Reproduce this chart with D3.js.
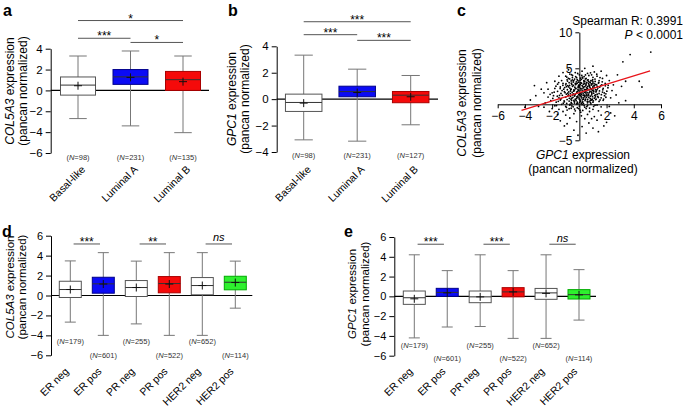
<!DOCTYPE html>
<html>
<head>
<meta charset="utf-8">
<script src="https://cdn.jsdelivr.net/npm/d3@7"></script>
<style>
  body { margin: 0; background: #fff; }
  text { font-family: "Liberation Sans", Arial, sans-serif; }
</style>
</head>
<body>
<script>
// ---- data ----
// box stats per group: [low whisker, q1, median, q3, high whisker, mean]
const catsAB = ["Basal-like", "Luminal A", "Luminal B"];
const statsA = [
  [-2.7, -0.45, 0.51, 1.29, 3.3, 0.45],
  [-3.4, 0.58, 1.3, 2.0, 3.78, 1.25],
  [-4.05, 0.0, 1.03, 1.82, 3.3, 0.84]
];
const nA = [98, 231, 135];
const statsB = [
  [-3.08, -0.93, -0.25, 0.38, 3.33, -0.3],
  [-3.18, 0.18, 0.57, 0.98, 2.27, 0.5],
  [-1.94, -0.27, 0.3, 0.58, 1.79, 0.18]
];
const nB = [98, 231, 127];

const catsDE = ["ER neg", "ER pos", "PR neg", "PR pos", "HER2 neg", "HER2 pos"];
const statsD = [
  [-2.67, -0.2, 0.6, 1.43, 3.47, 0.6],
  [-4.0, 0.23, 1.17, 1.83, 4.3, 1.15],
  [-2.85, -0.1, 0.8, 1.5, 3.45, 0.8],
  [-4.0, 0.27, 1.2, 1.9, 4.3, 1.15],
  [-4.0, 0.07, 1.0, 1.8, 4.3, 1.0],
  [-1.27, 0.57, 1.33, 1.93, 3.45, 1.3]
];
const statsE = [
  [-4.2, -0.81, -0.14, 0.54, 4.2, -0.25],
  [-3.1, 0.0, 0.4, 0.81, 2.6, 0.35],
  [-3.05, -0.64, -0.05, 0.54, 4.2, -0.05],
  [-4.25, -0.05, 0.45, 0.88, 2.6, 0.45],
  [-4.25, -0.3, 0.35, 0.8, 4.2, 0.3],
  [-2.4, -0.27, 0.17, 0.68, 2.7, 0.15]
];
const nDE = [179, 601, 255, 522, 652, 114];

// significance bars: [from, to, y value, label]
const sigA = [["Basal-like", "Luminal B", 6.7, "*"], ["Basal-like", "Luminal A", 5.0, "***"], ["Luminal A", "Luminal B", 4.6, "*"]];
const sigB = [["Basal-like", "Luminal B", 5.86, "***"], ["Basal-like", "Luminal A", 4.88, "***"], ["Luminal A", "Luminal B", 4.45, "***"]];
const sigD = [["ER neg", "ER pos", 5.17, "***"], ["PR neg", "PR pos", 5.17, "**"], ["HER2 neg", "HER2 pos", 5.17, "ns"]];
const sigE = [["ER neg", "ER pos", 5.27, "***"], ["PR neg", "PR pos", 5.27, "***"], ["HER2 neg", "HER2 pos", 5.27, "ns"]];

// panel c: GPC1 (x) vs COL5A3 (y)
const scatterPts = [
  [-0.3,4.4],[0.2,4.6],[0.6,4.3],[1.1,4.5],[-0.7,4.2],[0.9,4.1],
  [-1.0,3.9],[-0.5,4.0],[0.0,4.1],[0.35,3.85],[0.7,4.0],[1.3,3.9],[-0.2,3.7],[0.5,3.6],[1.0,3.75],[-0.8,3.6],
  [-1.3,3.3],[-0.9,3.4],[-0.6,3.25],[-0.35,3.5],[-0.1,3.3],[0.15,3.45],[0.4,3.2],[0.65,3.4],[0.85,3.3],[1.15,3.5],[1.45,3.3],[1.7,3.6],[0.25,3.65],[-0.45,3.1],[0.55,3.05],[1.0,3.1],
  [-1.6,2.8],[-1.2,2.9],[-1.0,2.7],[-0.75,3.0],[-0.55,2.75],[-0.3,2.9],[-0.05,2.65],[0.1,3.0],[0.3,2.8],[0.5,2.95],[0.7,2.7],[0.95,2.85],[1.2,2.75],[1.4,2.95],[1.65,2.7],[1.9,2.9],[-0.15,2.95],[0.8,3.0],[0.2,2.6],[-0.85,2.6],[1.1,2.6],
  [-1.8,2.2],[-1.4,2.4],[-1.15,2.1],[-0.95,2.45],[-0.7,2.25],[-0.5,2.5],[-0.25,2.2],[0.0,2.4],[0.2,2.15],[0.4,2.45],[0.6,2.2],[0.75,2.5],[0.9,2.1],[1.1,2.35],[1.3,2.05],[1.5,2.4],[1.75,2.2],[2.1,2.3],[-0.4,2.0],[0.3,2.3],[0.5,2.05],[1.0,2.5],[-0.1,2.05],[-0.6,2.1],
  [-2.0,1.6],[-1.6,1.8],[-1.35,1.5],[-1.1,1.75],[-0.85,1.55],[-0.65,1.85],[-0.45,1.45],[-0.2,1.7],[0.05,1.5],[0.25,1.85],[0.45,1.6],[0.65,1.4],[0.85,1.75],[1.05,1.55],[1.25,1.85],[1.45,1.5],[1.7,1.7],[1.95,1.45],[-0.05,1.9],[0.55,1.9],[-0.95,1.4],[0.15,1.4],[0.95,1.9],[-0.3,1.4],
  [-2.3,1.0],[-1.9,1.2],[-1.5,0.9],[-1.25,1.25],[-1.0,1.0],[-0.8,1.3],[-0.55,0.85],[-0.35,1.15],[-0.1,0.95],[0.1,1.25],[0.3,0.9],[0.5,1.2],[0.7,0.95],[0.9,1.3],[1.1,0.85],[1.35,1.1],[1.6,0.9],[1.85,1.2],[-0.65,1.1],[0.0,1.3],[0.4,1.05],[0.8,0.8],[-0.2,0.8],[1.2,1.3],
  [-2.1,0.5],[-1.7,0.3],[-1.4,0.6],[-1.1,0.35],[-0.9,0.65],[-0.6,0.25],[-0.4,0.55],[-0.15,0.3],[0.05,0.6],[0.25,0.35],[0.45,0.7],[0.6,0.2],[0.8,0.5],[1.0,0.3],[1.2,0.65],[1.45,0.4],[1.75,0.55],[-0.75,0.45],[0.15,0.15],[0.95,0.7],[-0.3,0.7],
  [-1.8,-0.2],[-1.3,0.0],[-1.0,-0.3],[-0.7,-0.1],[-0.45,-0.35],[-0.2,0.05],[0.0,-0.25],[0.2,-0.05],[0.4,-0.4],[0.6,-0.15],[0.85,0.05],[1.05,-0.3],[1.3,-0.1],[1.6,-0.35],[-0.55,0.1],[0.3,0.1],
  [-1.5,-0.7],[-0.9,-0.8],[-0.6,-0.55],[-0.3,-0.9],[-0.05,-0.6],[0.25,-0.85],[0.5,-0.6],[0.75,-1.0],[1.0,-0.7],[1.4,-0.9],[-1.2,-1.0],[0.1,-1.1],
  [-1.0,-1.5],[-0.4,-1.3],[0.15,-1.6],[0.6,-1.4],[1.1,-1.7],[-0.7,-1.9],[0.4,-2.0],[1.6,-1.5],[-1.6,-1.4],
  [-0.2,-2.4],[0.7,-2.6],[1.3,-2.2],[-0.9,-2.7],[0.2,-3.1],[1.0,-3.3],[-0.4,-3.6],[0.5,-4.0],[2.0,-2.5],[-1.4,-2.3],[0.9,-2.0],[2.3,-1.2],[-2.2,-1.0],[-2.6,-0.4],
  [-4.0,-0.4],[-3.6,0.6],[-3.2,1.2],[-3.0,-0.3],[-2.8,2.1],[-2.3,2.1],[-2.6,1.6],[-3.3,2.6],[-2.5,0.2],[-2.0,-0.6],[-2.4,3.0],[-1.8,3.2],[-1.5,3.9],[-1.2,4.4],[-0.8,4.8],[0.4,5.0],[1.0,5.3],[1.6,4.6],[2.0,4.0],[2.2,3.3],[2.5,2.7],[2.4,1.9],[2.7,1.3],[2.3,0.9],[2.9,0.2],[2.2,-0.3],[3.1,2.5],[3.4,3.2],[2.8,4.1],[3.2,5.9],[3.73,6.9],[5.25,7.25],[4.4,3.2],[3.4,0.5],[4.6,2.4],[2.6,-1.6],[1.8,-3.0],[-1.1,-3.0],[-0.1,-4.3],[1.4,-3.8],
  [-0.72,2.62],[-0.48,1.28],[-0.33,2.38],[-0.12,1.12],[0.07,2.78],[0.22,0.62],[0.36,1.68],[0.48,2.58],[0.62,1.18],[0.78,2.32],[0.92,1.48],[1.08,2.88],[-0.62,0.72],[-0.22,3.12],[0.12,1.98],[0.33,3.28],[0.58,0.42],[0.72,1.62],[0.88,2.68],[1.18,1.02],[-0.88,2.02],[-0.52,3.38],[-0.08,2.48],[0.18,0.88],[0.42,2.02],[0.68,3.18],[1.02,1.98],[-0.38,0.42],[0.02,0.28],[0.52,1.42],
  [-0.78,1.72],[-0.28,2.72],[0.28,1.22],[0.82,0.22],[1.32,2.48],[-1.08,2.32],[-0.18,1.58],[0.38,2.88],[0.98,3.42],[-0.68,0.02],[0.08,3.62],[0.62,2.48],[1.22,1.72],[-0.42,1.82],[0.92,0.58],
  [-1.12,0.48],[-1.05,1.62],[-0.98,2.88],[-0.93,0.12],[-0.87,3.22],[-0.83,1.18],[-0.79,2.41],[-0.74,0.83],[-0.71,3.52],[-0.66,1.47],[-0.63,2.07],[-0.59,2.93],[-0.57,0.57],[-0.53,1.66],[-0.51,3.71],[-0.47,0.97],[-0.44,2.63],[-0.41,3.29],[-0.37,1.93],[-0.36,0.18],
  [-0.32,1.31],[-0.29,2.17],[-0.27,3.83],[-0.24,0.51],[-0.21,2.84],[-0.19,1.02],[-0.16,3.41],[-0.13,1.79],[-0.11,0.08],[-0.09,2.31],[-0.06,3.07],[-0.04,1.36],[-0.02,0.74],[0.01,2.62],[0.03,1.67],[0.06,3.33],[0.09,0.43],[0.11,2.21],[0.13,1.08],[0.16,2.94],
  [0.19,1.61],[0.21,3.78],[0.23,0.27],[0.26,2.47],[0.29,1.46],[0.31,0.71],[0.34,3.11],[0.37,2.03],[0.39,1.27],[0.42,0.52],[0.44,3.52],[0.47,1.83],[0.49,2.77],[0.52,0.96],[0.54,2.29],[0.57,1.63],[0.59,3.36],[0.61,0.67],[0.64,2.01],[0.67,2.91],
  [0.69,1.28],[0.71,0.36],[0.74,2.61],[0.77,1.84],[0.79,3.06],[0.81,1.12],[0.84,2.16],[0.87,0.64],[0.89,2.84],[0.91,1.67],[0.94,3.26],[0.97,1.06],[0.99,2.27],[1.03,0.48],[1.06,1.81],[1.09,2.63],[1.12,1.24],[1.16,3.18],[1.19,2.03],[1.23,0.73],
  [1.27,2.71],[1.31,1.41],[1.36,2.26],[1.39,0.96],[1.43,3.03],[1.48,1.86],[1.52,0.61],[1.57,2.58],[1.62,1.33],[-1.27,1.91],[-1.33,0.78],[-1.21,2.63],[-1.41,2.18],[-1.18,0.16],[-1.46,1.23],
  [-0.95,-0.42],[-0.55,-0.22],[-0.15,-0.48],[0.35,-0.18],[0.75,-0.52],[1.15,-0.12],[-0.35,-0.66],[0.55,-0.31],[0.05,-0.82],[-0.75,-0.61],
  [-0.58,4.12],[-0.12,4.28],[0.45,4.08],[0.82,4.37],[1.28,4.18],[-0.92,3.78],[1.52,3.71],[0.18,4.02],
  [1.72,2.01],[1.83,1.58],[1.91,2.56],[2.02,1.82],[1.78,0.72],[1.95,0.98],[2.12,2.64],[1.68,3.12],
  [-1.62,1.12],[-1.72,2.52],[-1.55,0.42],[-1.85,1.68],[-1.95,0.82],[-2.15,1.38],[-1.52,3.02],[-1.68,-0.18]
];
const fitLine = [[-4.25, -0.86], [5.2, 4.65]];
const xTicksC = [-6, -4, -2, 2, 4, 6];
const yTicksC = [-5, 5, 10];

const FONT = '"Liberation Sans", Arial, sans-serif';
const svg = d3.select("body").append("svg")
  .attr("width", 685)
  .attr("height", 412);

function geneTitle(g, gene, x, y, size) {
  // two rotated lines: "<gene> expression" / "(pancan normalized)"
  const t1 = g.append("text")
    .attr("transform", `translate(${x[0]},${y}) rotate(-90)`)
    .attr("text-anchor", "middle")
    .attr("font-size", size);
  t1.append("tspan").attr("font-style", "italic").text(gene);
  t1.append("tspan").text(" expression");
  g.append("text")
    .attr("transform", `translate(${x[1]},${y}) rotate(-90)`)
    .attr("text-anchor", "middle")
    .attr("font-size", size)
    .text("(pancan normalized)");
}

function boxPanel(o) {
  const g = svg.append("g");
  const y = d3.scaleLinear().domain(o.yDomain).range(o.yRange);
  const x = d3.scalePoint().domain(o.cats).range(o.xRange);
  const step = x.step();

  // y axis
  g.append("g")
    .attr("transform", `translate(${o.axisX},0)`)
    .attr("font-family", FONT)
    .call(d3.axisLeft(y).tickValues(o.yTicks).tickSize(5).tickSizeOuter(0).tickPadding(3))
    .call((a) => a.selectAll("text").attr("font-size", o.tickFont));

  // zero line
  g.append("line")
    .attr("x1", o.axisX).attr("x2", o.zeroEnd)
    .attr("y1", y(0)).attr("y2", y(0))
    .attr("stroke", "#000").attr("stroke-width", 1.1);

  const bw = o.boxW;
  const box = g.selectAll(".box")
    .data(o.stats)
    .join("g")
    .attr("class", "box")
    .attr("transform", (d, i) => `translate(${x(o.cats[i])},0)`);

  box.append("line")
    .attr("y1", (d) => y(d[0])).attr("y2", (d) => y(d[4]))
    .attr("stroke", "#777");
  box.append("line")
    .attr("x1", -bw / 4).attr("x2", bw / 4)
    .attr("y1", (d) => y(d[0])).attr("y2", (d) => y(d[0]))
    .attr("stroke", "#777");
  box.append("line")
    .attr("x1", -bw / 4).attr("x2", bw / 4)
    .attr("y1", (d) => y(d[4])).attr("y2", (d) => y(d[4]))
    .attr("stroke", "#777");
  box.append("rect")
    .attr("x", -bw / 2).attr("width", bw)
    .attr("y", (d) => y(d[3]))
    .attr("height", (d) => y(d[1]) - y(d[3]))
    .attr("fill", (d, i) => o.fills[i])
    .attr("stroke", (d, i) => o.strokes[i]);
  box.append("line")
    .attr("x1", -bw / 2).attr("x2", bw / 2)
    .attr("y1", (d) => y(d[2])).attr("y2", (d) => y(d[2]))
    .attr("stroke", "#333");
  // mean marker (+)
  box.append("line")
    .attr("x1", -4).attr("x2", 4)
    .attr("y1", (d) => y(d[5])).attr("y2", (d) => y(d[5]))
    .attr("stroke", "#111");
  box.append("line")
    .attr("y1", (d) => y(d[5]) - 4).attr("y2", (d) => y(d[5]) + 4)
    .attr("stroke", "#111");

  // N labels
  const nl = g.selectAll(".nlab")
    .data(o.ns)
    .join("text")
    .attr("class", "nlab")
    .attr("x", (d, i) => x(o.cats[i]))
    .attr("y", (d, i) => o.nY[i])
    .attr("text-anchor", "middle")
    .attr("font-size", 7.5)
    .attr("fill", "#333");
  nl.append("tspan").text("(");
  nl.append("tspan").attr("font-style", "italic").text("N");
  nl.append("tspan").text((d) => "=" + d + ")");

  // category labels
  g.selectAll(".cat")
    .data(o.cats)
    .join("text")
    .attr("class", "cat")
    .attr("transform", (d) => `translate(${x(d) + o.labelDx},${o.labelY}) rotate(-45)`)
    .attr("text-anchor", "end")
    .attr("font-size", o.catFont)
    .text((d) => d);

  // significance bars
  o.sig.forEach(([a, b, v, lab]) => {
    let x1 = x(a), x2 = x(b);
    if (o.shortBars) {
      const m = (x1 + x2) / 2;
      x1 = m - step * 0.4;
      x2 = m + step * 0.4;
    }
    g.append("line")
      .attr("x1", x1).attr("x2", x2)
      .attr("y1", y(v)).attr("y2", y(v))
      .attr("stroke", "#555");
    g.append("text")
      .attr("x", (x1 + x2) / 2)
      .attr("y", lab === "ns" ? y(v) - 2.5 : y(v) + 2)
      .attr("text-anchor", "middle")
      .attr("font-size", lab === "ns" ? 11 : 12)
      .attr("font-style", lab === "ns" ? "italic" : "normal")
      .text(lab);
  });

  geneTitle(g, o.gene, o.titleX, o.titleY, o.titleFont);
}

// panel a
boxPanel({
  cats: catsAB, stats: statsA, ns: nA, sig: sigA, gene: "COL5A3",
  fills: ["#fff", "#0b0bf5", "#f50a0a"], strokes: ["#555", "#00008b", "#a00"],
  axisX: 50.7, yDomain: [-6, 4], yRange: [153, 48.7], yTicks: [-6, -4, -2, 0, 2, 4],
  xRange: [78, 183], zeroEnd: 209, boxW: 35, nY: [160, 160, 160],
  labelDx: 8, labelY: 170, catFont: 10.5, tickFont: 11.5,
  titleX: [14, 27], titleY: 91, titleFont: 12
});

// panel b
boxPanel({
  cats: catsAB, stats: statsB, ns: nB, sig: sigB, gene: "GPC1",
  fills: ["#fff", "#0b0bf5", "#f50a0a"], strokes: ["#555", "#00008b", "#a00"],
  axisX: 276.7, yDomain: [-4, 4], yRange: [152, 46.3], yTicks: [-4, -2, 0, 2, 4],
  xRange: [303.7, 410.7], zeroEnd: 438, boxW: 36.5, nY: [158, 158, 158],
  labelDx: 8, labelY: 170, catFont: 10.5, tickFont: 11.5,
  titleX: [236, 249], titleY: 99, titleFont: 12
});

// panel d
boxPanel({
  cats: catsDE, stats: statsD, ns: nDE, sig: sigD, gene: "COL5A3", shortBars: true,
  fills: ["#fff", "#0b0bf5", "#fff", "#f50a0a", "#fff", "#2ef02e"],
  strokes: ["#555", "#00008b", "#555", "#a00", "#555", "#0a0"],
  axisX: 51, yDomain: [-6, 6], yRange: [355.3, 235.7], yTicks: [-6, -4, -2, 0, 2, 4, 6],
  xRange: [70.3, 235.3], zeroEnd: 252.3, boxW: 22,
  nY: [344, 358, 344, 358, 344, 358],
  labelDx: -1, labelY: 372, catFont: 10.5, tickFont: 11,
  titleX: [14, 26], titleY: 287, titleFont: 11.5
});

// panel e
boxPanel({
  cats: catsDE, stats: statsE, ns: nDE, sig: sigE, gene: "GPC1", shortBars: true,
  fills: ["#fff", "#0b0bf5", "#fff", "#f50a0a", "#fff", "#2ef02e"],
  strokes: ["#555", "#00008b", "#555", "#a00", "#555", "#0a0"],
  axisX: 394.3, yDomain: [-6, 6], yRange: [355.7, 237], yTicks: [-6, -4, -2, 0, 2, 4, 6],
  xRange: [414.3, 579], zeroEnd: 596, boxW: 22,
  nY: [348, 361, 348, 361, 348, 361],
  labelDx: -1, labelY: 372, catFont: 10.5, tickFont: 11,
  titleX: [356, 369], titleY: 294, titleFont: 11.5
});

// panel c: scatter
const xC = d3.scaleLinear().domain([-6, 6]).range([497.7, 661]);
const yC = d3.scaleLinear().domain([-5, 10]).range([140.3, 32.3]);
const gC = svg.append("g");

gC.append("g")
  .attr("transform", `translate(0,${yC(0)})`)
  .attr("font-family", FONT)
  .call(d3.axisBottom(xC).tickValues(xTicksC).tickSize(4).tickSizeOuter(0).tickPadding(3))
  .call((a) => a.selectAll("text").attr("font-size", 12));
gC.append("g")
  .attr("transform", `translate(${xC(0)},0)`)
  .attr("font-family", FONT)
  .call(d3.axisLeft(yC).tickValues(yTicksC).tickSize(4).tickSizeOuter(0).tickPadding(3))
  .call((a) => a.selectAll("text").attr("font-size", 12));

gC.selectAll(".pt")
  .data(scatterPts)
  .join("circle")
  .attr("class", "pt")
  .attr("cx", (d) => xC(d[0]))
  .attr("cy", (d) => yC(d[1]))
  .attr("r", 0.9)
  .attr("fill", "#000");

gC.append("path")
  .datum(fitLine)
  .attr("d", d3.line().x((d) => xC(d[0])).y((d) => yC(d[1])))
  .attr("stroke", "#e8141a")
  .attr("stroke-width", 1.3)
  .attr("fill", "none");

gC.append("text")
  .attr("x", 683).attr("y", 25)
  .attr("text-anchor", "end")
  .attr("font-size", 12)
  .text("Spearman R: 0.3991");
const pt = gC.append("text")
  .attr("x", 683).attr("y", 39)
  .attr("text-anchor", "end")
  .attr("font-size", 12);
pt.append("tspan").attr("font-style", "italic").text("P");
pt.append("tspan").text(" < 0.0001");

const xt = gC.append("text")
  .attr("x", 583).attr("y", 159)
  .attr("text-anchor", "middle")
  .attr("font-size", 12);
xt.append("tspan").attr("font-style", "italic").text("GPC1");
xt.append("tspan").text(" expression");
gC.append("text")
  .attr("x", 583).attr("y", 173)
  .attr("text-anchor", "middle")
  .attr("font-size", 12)
  .text("(pancan normalized)");
geneTitle(gC, "COL5A3", [466, 481], 103, 12);

// panel letters
const letters = [["a", 3, 16], ["b", 228, 16], ["c", 457, 16], ["d", 2, 237], ["e", 344, 237]];
svg.selectAll(".letter")
  .data(letters)
  .join("text")
  .attr("class", "letter")
  .attr("x", (d) => d[1])
  .attr("y", (d) => d[2])
  .attr("font-size", 16)
  .attr("font-weight", "bold")
  .text((d) => d[0]);
</script>
</body>
</html>
